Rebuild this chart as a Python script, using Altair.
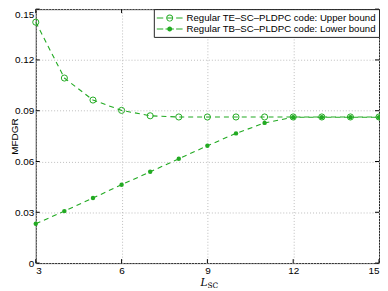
import altair as alt
import pandas as pd

# ---- data ----
l_sc = [3, 4, 5, 6, 7, 8, 9, 10, 11, 12, 13, 14, 15]
upper = [0.1423, 0.1093, 0.0963, 0.0902, 0.0870, 0.0863, 0.0863, 0.0863,
         0.0863, 0.0863, 0.0863, 0.0863, 0.0863]
lower = [0.0232, 0.0307, 0.0384, 0.0463, 0.0539, 0.0616, 0.0693, 0.0766,
         0.0828, 0.0861, 0.0861, 0.0861, 0.0861]
series_names = ["Regular TE\u2013SC\u2013PLDPC code: Upper bound",
                "Regular TB\u2013SC\u2013PLDPC code: Lower bound"]
x_ticks = [3, 6, 9, 12, 15]
y_ticks = [0, 0.03, 0.06, 0.09, 0.12, 0.15]

GREEN = "#22aa22"
W, H = 346, 256
FONT = "Liberation Sans"

rows = []
for xv, u, lo in zip(l_sc, upper, lower):
    rows.append({"L": xv, "v": u, "s": series_names[0]})
    rows.append({"L": xv, "v": lo, "s": series_names[1]})
df = pd.DataFrame(rows)
df_up = df[df.s == series_names[0]]
df_lo = df[df.s == series_names[1]]

xt = pd.DataFrame({"L": x_ticks})
yt = pd.DataFrame({"v": y_ticks})

xscale = alt.Scale(domain=[3, 15], nice=False, zero=False)
yscale = alt.Scale(domain=[0, 0.15], nice=False, zero=False)

X = alt.X("L:Q", scale=xscale,
          axis=alt.Axis(values=x_ticks, title=None, grid=True, ticks=False,
                        domain=False, labelPadding=3, gridDash=[1, 2],
                        gridColor="#bdbdbd", labelFont=FONT, labelFontSize=10,
                        labelColor="black"))
Y = alt.Y("v:Q", scale=yscale,
          axis=alt.Axis(values=y_ticks, title="MFDGR", grid=True, ticks=False,
                        domain=False, labelPadding=2, gridDash=[1, 2],
                        gridColor="#bdbdbd", labelFont=FONT, labelFontSize=10,
                        labelColor="black",
                        labelBaseline={"condition": {"test": "datum.value >= 0.15",
                                                     "value": "top"},
                                       "value": "middle"},
                        labelExpr="datum.value == 0 ? '0' : format(datum.value, '.2f')",
                        titleFont=FONT, titleFontSize=10, titleFontWeight="normal",
                        titleColor="black", titleX=-16, titleY=H / 2,
                        titleAlign="center", titleBaseline="bottom"))

lines = alt.Chart(df).mark_line(color=GREEN, strokeDash=[5, 4], strokeWidth=1.1).encode(
    x=X, y=Y, detail="s:N")
pts_up = alt.Chart(df_up).mark_point(shape="circle", filled=False, size=38,
                                     strokeWidth=1, color=GREEN, opacity=1).encode(
    x="L:Q", y="v:Q")
pts_lo = alt.Chart(df_lo).mark_circle(size=20, color=GREEN, opacity=1).encode(
    x="L:Q", y="v:Q")


# legend symbols as custom paths (1 unit == 6 px, symbol 26 px wide)
def rect(x0, x1, h):
    return f"M{x0},{-h}H{x1}V{h}H{x0}Z"


def circ(r, sweep):
    return f"M0,{-r}A{r},{r} 0 1,{sweep} 0,{r}A{r},{r} 0 1,{sweep} 0,{-r}Z"


lw = 0.085
dashes = rect(-2.1667, -1.0833, lw) + rect(1.0833, 2.1667, lw)
path_up = dashes + circ(0.5833, 1) + circ(0.4333, 0) + rect(-0.4333, 0.4333, lw)
path_lo = dashes + rect(-0.7, 0.7, lw) + circ(0.4167, 1)

legend_layer = alt.Chart(df).mark_point(filled=True, opacity=1, color=GREEN,
                                        strokeWidth=0).encode(
    x="L:Q", y="v:Q",
    shape=alt.Shape("s:N", scale=alt.Scale(domain=series_names,
                                           range=[path_up, path_lo]),
                    legend=alt.Legend(title=None, orient="top-right", offset=0,
                                      fillColor="white", strokeColor="#222",
                                      padding=3, symbolSize=144, symbolOffset=7,
                                      symbolFillColor=GREEN, symbolStrokeWidth=0,
                                      symbolOpacity=1, labelLimit=0,
                                      labelFont=FONT, labelFontSize=9.7,
                                      labelColor="black", labelOffset=11,
                                      rowPadding=0, cornerRadius=0))
).transform_filter("false")

# inward ticks on all four sides
tick_l = alt.Chart(yt).mark_rule(color="black", strokeWidth=1).encode(
    y="v:Q", x=alt.value(0), x2=alt.value(4))
tick_r = alt.Chart(yt).mark_rule(color="black", strokeWidth=1).encode(
    y="v:Q", x=alt.value(W - 4), x2=alt.value(W))
tick_b = alt.Chart(xt).mark_rule(color="black", strokeWidth=1).encode(
    x="L:Q", y=alt.value(H - 4), y2=alt.value(H))
tick_t = alt.Chart(xt).mark_rule(color="black", strokeWidth=1).encode(
    x="L:Q", y=alt.value(0), y2=alt.value(4))

# x-axis title L_SC
lab = pd.DataFrame({"t": ["L"]})
sub = pd.DataFrame({"t": ["SC"]})
t_L = alt.Chart(lab).mark_text(font="DejaVu Serif", fontStyle="italic", fontSize=10.5,
                               align="right", baseline="alphabetic", color="black").encode(
    text="t:N", x=alt.value(173), y=alt.value(279))
t_SC = alt.Chart(sub).mark_text(font="DejaVu Serif", fontSize=7.5, align="left",
                                baseline="alphabetic", color="black").encode(
    text="t:N", x=alt.value(173), y=alt.value(281))

chart = alt.layer(lines, pts_up, pts_lo, legend_layer, tick_l, tick_r, tick_b, tick_t,
                  t_L, t_SC).properties(
    width=W, height=H,
    autosize=alt.AutoSizeParams(type="none"),
    padding={"left": 28, "top": 0, "right": 1, "bottom": 27},
    background="white",
).configure_view(stroke="#222", strokeWidth=1)

chart.save("out.html", embed_options={"renderer": "svg", "actions": False})
